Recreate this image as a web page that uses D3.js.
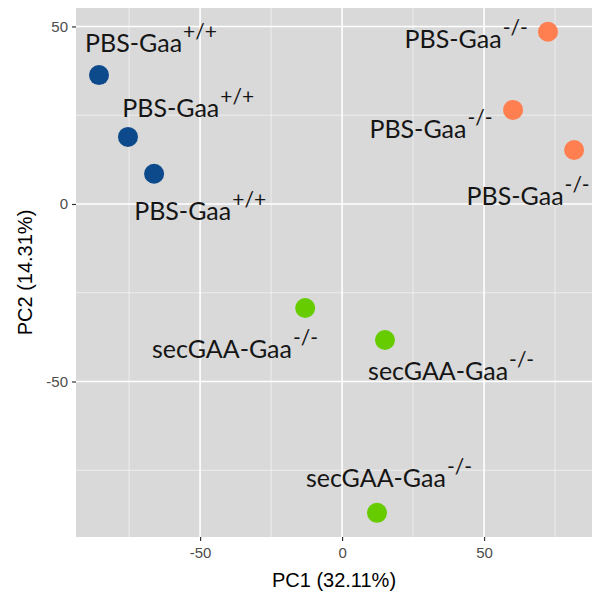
<!DOCTYPE html>
<html>
<head>
<meta charset="utf-8">
<script src="https://cdn.jsdelivr.net/npm/d3@7"></script>
<style>
  body { margin: 0; background: #fff; }
  .tick text { font-family: "Liberation Sans", Arial, sans-serif; }
</style>
</head>
<body>
<div id="chart"></div>
<script>
// PCA scores
var groups = ["wt", "wt", "wt", "ko", "ko", "ko", "sec", "sec", "sec"];
var pc1 = [-85.6, -75.4, -66.2, 72.5, 60.2, 81.7, -13.0, 15.1, 12.3];
var pc2 = [36.3, 18.9, 8.5, 48.5, 26.5, 15.2, -29.3, -38.3, -87.0];
// label anchor (centre, baseline) in data units
var labX = [-67.3, -54.2, -50.0, 43.7, 31.3, 65.5, -37.7, 38.4, 16.5];
var labY = [42.8, 24.5, -4.5, 43.9, 18.6, -0.3, -43.4, -49.6, -79.7];
var labBase = { wt: "PBS-Gaa", ko: "PBS-Gaa", sec: "secGAA-Gaa" };
var labSup = { wt: "+/+", ko: "-/-", sec: "-/-" };
var xTicks = [-50, 0, 50];
var yTicks = [-50, 0, 50];

var colors = { wt: "#0d4a8c", ko: "#ff7f50", sec: "#66cc00" };

var W = 592, H = 599;
var m = { left: 76, right: 0, top: 8, bottom: 62 };

var svg = d3.select("#chart").append("svg")
  .attr("width", W).attr("height", H);

var x = d3.scaleLinear().domain([-93.7, 88]).range([m.left, W - m.right]);
var y = d3.scaleLinear().domain([-93.8, 55.2]).range([H - m.bottom, m.top]);

//Panel
svg.append("rect")
  .attr("x", m.left).attr("y", m.top)
  .attr("width", W - m.right - m.left).attr("height", H - m.bottom - m.top)
  .attr("fill", "#d9d9d9");

//Minor grid
var xMinor = [-75, -25, 25, 75], yMinor = [-75, -25, 25];
var g = svg.append("g");
g.selectAll(".xm").data(xMinor).enter().append("line")
  .attr("x1", d => x(d)).attr("x2", d => x(d))
  .attr("y1", m.top).attr("y2", H - m.bottom)
  .attr("stroke", "#f2f2f2").attr("stroke-width", 0.8);
g.selectAll(".ym").data(yMinor).enter().append("line")
  .attr("y1", d => y(d)).attr("y2", d => y(d))
  .attr("x1", m.left).attr("x2", W - m.right)
  .attr("stroke", "#f2f2f2").attr("stroke-width", 0.8);

//Major grid
g.selectAll(".xM").data(xTicks).enter().append("line")
  .attr("x1", d => x(d)).attr("x2", d => x(d))
  .attr("y1", m.top).attr("y2", H - m.bottom)
  .attr("stroke", "#fff").attr("stroke-width", 1.6);
g.selectAll(".yM").data(yTicks).enter().append("line")
  .attr("y1", d => y(d)).attr("y2", d => y(d))
  .attr("x1", m.left).attr("x2", W - m.right)
  .attr("stroke", "#fff").attr("stroke-width", 1.6);

//Axes (plain hyphen for negatives, like R)
var fmt = d => String(d);
var xAxis = svg.append("g")
  .attr("transform", "translate(0," + (H - m.bottom) + ")")
  .call(d3.axisBottom(x).tickValues(xTicks).tickFormat(fmt).tickSize(4).tickPadding(6));
var yAxis = svg.append("g")
  .attr("transform", "translate(" + m.left + ",0)")
  .call(d3.axisLeft(y).tickValues(yTicks).tickFormat(fmt).tickSize(4).tickPadding(4));
[xAxis, yAxis].forEach(function (a) {
  a.select(".domain").remove();
  a.selectAll(".tick line").attr("stroke", "#333").attr("stroke-width", 1.2);
  a.selectAll(".tick text").attr("fill", "#4d4d4d").style("font-size", "15px");
});

//Axis titles
svg.append("text")
  .attr("x", (m.left + W - m.right) / 2).attr("y", 587)
  .attr("text-anchor", "middle")
  .style("font-family", "Liberation Sans, Arial, sans-serif")
  .style("font-size", "20px").attr("fill", "#000")
  .text("PC1 (32.11%)");
svg.append("text")
  .attr("transform", "translate(32," + ((m.top + H - m.bottom) / 2) + ") rotate(-90)")
  .attr("text-anchor", "middle")
  .style("font-family", "Liberation Sans, Arial, sans-serif")
  .style("font-size", "20px").attr("fill", "#000")
  .text("PC2 (14.31%)");

//Points
svg.selectAll("circle").data(groups).enter().append("circle")
  .attr("cx", (d, i) => x(pc1[i]))
  .attr("cy", (d, i) => y(pc2[i]))
  .attr("r", 10)
  .attr("fill", d => colors[d]);

//Labels
var labs = svg.selectAll(".lab").data(groups).enter().append("text")
  .attr("class", "lab")
  .attr("x", (d, i) => x(labX[i]))
  .attr("y", (d, i) => y(labY[i]))
  .attr("text-anchor", "middle")
  .style("font-family", "Lato, sans-serif")
  .style("font-size", "25px")
  .attr("fill", "#151515");
labs.append("tspan").text(d => labBase[d]);
labs.append("tspan")
  .attr("dx", 1)
  .attr("dy", -13)
  .style("font-size", "21px")
  .text(d => labSup[d]);
</script>
</body>
</html>
